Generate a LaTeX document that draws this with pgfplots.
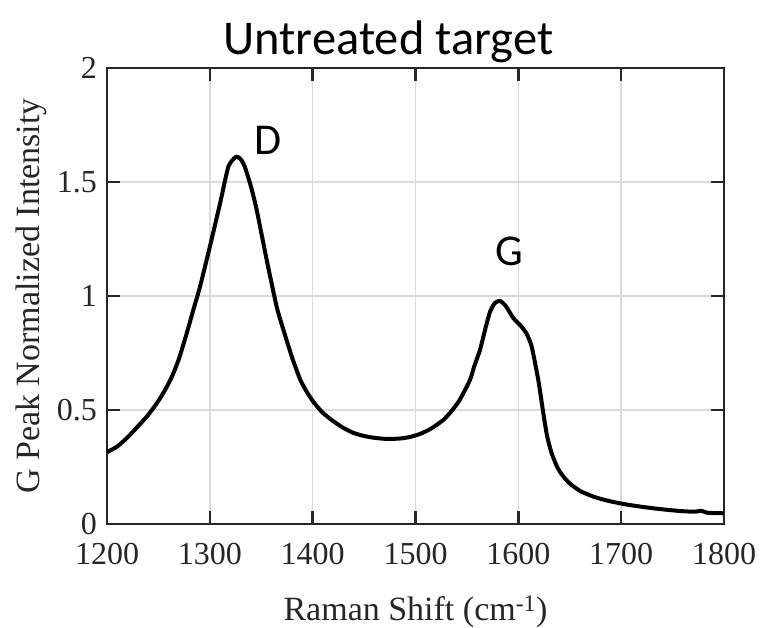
\documentclass[border=0pt]{standalone}
\usepackage{pgfplots}
\pgfplotsset{compat=1.18}
\usepackage{fontspec}
\setmainfont{Liberation Serif}
\newfontfamily\calibri{Carlito}

\definecolor{axisgray}{RGB}{38,38,38}
\definecolor{gridgray}{RGB}{218,218,218}

\pgfplotstableread{
x y
1200 0.315
1210 0.340
1220 0.380
1230 0.428
1240 0.478
1250 0.540
1258 0.600
1264 0.655
1270 0.725
1277.5 0.836
1284 0.940
1290.4 1.040
1300 1.216
1310 1.407
1318 1.567
1325.5 1.611
1330 1.600
1334 1.567
1340 1.480
1345.6 1.377
1355.3 1.158
1365 0.953
1372 0.845
1380 0.730
1388 0.632
1395 0.574
1402 0.528
1410 0.487
1420 0.451
1430 0.421
1440 0.399
1450 0.386
1460 0.378
1472 0.373
1485 0.375
1495 0.382
1505 0.396
1515 0.418
1527 0.456
1535 0.495
1543 0.544
1553 0.632
1557 0.690
1562.7 0.763
1567.6 0.851
1572.4 0.930
1577 0.968
1582 0.979
1588 0.955
1595 0.904
1603 0.866
1608 0.835
1613 0.778
1619.4 0.632
1624.3 0.486
1628 0.385
1632.4 0.310
1638 0.248
1644 0.207
1650 0.178
1660 0.145
1673 0.120
1687 0.102
1702 0.088
1716 0.078
1731 0.069
1745 0.062
1760 0.056
1772 0.054
1778 0.058
1783 0.050
1790 0.048
1800 0.047
}\spectrum

\begin{document}
\begin{tikzpicture}
\useasboundingbox (0,0) rectangle (767bp,628bp);
\begin{axis}[
  at={(107bp,104bp)}, anchor=south west,
  scale only axis, width=617bp, height=456bp,
  xmin=1200, xmax=1800, ymin=0, ymax=2,
  xtick={1200,1300,...,1800}, ytick={0,0.5,1,1.5,2},
  yticklabels={0,0.5,1,1.5,2},
  xticklabel style={/pgf/number format/set thousands separator={}},
  /pgf/number format/assume math mode=true,
  separate axis lines,
  axis line style={axisgray, line width=2.4bp, line cap=rect},
  tick align=inside, major tick length=13bp,
  tick style={axisgray, line width=2.4bp},
  grid=major,
  major grid style={gridgray, line width=1.6bp},
  tick label style={font=\fontsize{32bp}{38bp}\selectfont, text=axisgray},
  xticklabel style={anchor=north, inner sep=0pt, yshift=-19bp},
  yticklabel style={anchor=east, inner sep=0pt, xshift=-10bp},
  xlabel={Raman Shift (cm\textsuperscript{-1})},
  ylabel={G Peak Normalized Intensity},
  label style={font=\fontsize{34bp}{40bp}\selectfont, text=axisgray},
  xlabel style={at={(rel axis cs:0.5,0)}, anchor=base, inner sep=0pt, yshift=-96bp},
  ylabel style={at={(rel axis cs:-0.1232,0.5)}, anchor=center, inner sep=0pt},
  title={Untreated target},
  title style={font=\calibri\fontsize{48.5bp}{56bp}\selectfont, at={(rel axis cs:0.456,1)}, anchor=base, inner sep=0pt, yshift=8bp},
  clip=false,
]
\addplot[black, line width=4bp, smooth, tension=0.35, line join=round] table[x=x, y=y] {\spectrum};
\node[font=\calibri\fontsize{44bp}{52bp}\selectfont, inner sep=0pt] at (axis cs:1356.6,1.684) {D};
\node[font=\calibri\fontsize{44bp}{52bp}\selectfont, inner sep=0pt] at (axis cs:1590.9,1.197) {G};
\end{axis}
\end{tikzpicture}
\end{document}
